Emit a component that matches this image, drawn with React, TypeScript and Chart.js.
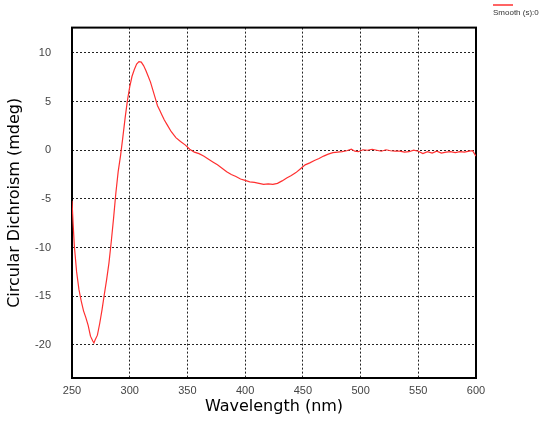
import React, { useEffect, useRef } from "react";
import { Chart, registerables } from "chart.js";

Chart.register(...registerables);

const wavelengths = [
  250, 251, 252, 254, 256, 258, 260, 262, 264, 266, 268, 269, 270, 272, 274, 276, 278, 280,
  282, 284, 286, 288, 290, 292, 294, 296, 298, 300, 302, 304, 306, 308, 310, 312, 314, 316,
  318, 320, 322, 324, 326, 328, 330, 333, 336, 340, 344, 348, 352, 356, 360, 364, 368, 372,
  376, 380, 384, 388, 392, 396, 400, 404, 408, 412, 416, 420, 424, 428, 432, 436, 440, 444,
  448, 452, 456, 460, 464, 468, 472, 476, 480, 484, 488, 492, 495, 498, 502, 506, 510, 514,
  518, 522, 526, 530, 534, 538, 542, 546, 550, 554, 558, 562, 566, 570, 574, 578, 582, 586,
  590, 594, 597, 600,
];

const cdValues = [
  -5.2, -7.6, -9.8, -12.5, -14.3, -15.5, -16.5, -17.2, -18.0, -19.1, -19.6, -19.8, -19.5,
  -19.0, -17.8, -16.4, -14.8, -13.3, -11.6, -9.4, -7.0, -4.4, -2.2, -0.6, 1.3, 3.3, 5.1, 6.5,
  7.6, 8.3, 8.85, 9.1, 9.05, 8.7, 8.2, 7.6, 7.0, 6.2, 5.4, 4.6, 4.1, 3.6, 3.1, 2.5, 1.9, 1.3,
  0.9, 0.55, 0.1, -0.2, -0.35, -0.6, -0.9, -1.2, -1.5, -1.85, -2.2, -2.5, -2.7, -2.95, -3.1,
  -3.25, -3.3, -3.4, -3.5, -3.45, -3.5, -3.4, -3.15, -2.85, -2.6, -2.3, -1.9, -1.5, -1.3,
  -1.05, -0.85, -0.6, -0.4, -0.25, -0.2, -0.15, -0.05, 0.1, -0.1, -0.15, 0.05, 0.0, 0.1, 0.0,
  -0.1, 0.05, -0.05, -0.1, -0.1, -0.2, -0.15, 0.0, -0.1, -0.35, -0.15, -0.3, -0.1, -0.3, -0.2,
  -0.15, -0.25, -0.15, -0.2, -0.1, -0.05, -0.6,
];

const xTicks = [250, 300, 350, 400, 450, 500, 550, 600];
const yTicks = [-20, -15, -10, -5, 0, 5, 10];

const seriesLabel = "Smooth (s):0";
const xTitle = "Wavelength (nm)";
const yTitle = "Circular Dichroism (mdeg)";
const lineColor = "#ff3030";

const frameAndLegend = {
  id: "frameAndLegend",
  beforeDatasetsDraw(chart: any) {
    const { ctx, chartArea } = chart;
    ctx.save();
    ctx.strokeStyle = "#000";
    ctx.lineWidth = 2;
    ctx.setLineDash([]);
    ctx.strokeRect(chartArea.left, chartArea.top, chartArea.right - chartArea.left, chartArea.bottom - chartArea.top);
    ctx.restore();
  },
  afterDraw(chart: any) {
    const { ctx } = chart;
    ctx.save();
    ctx.setLineDash([]);
    ctx.globalAlpha = 1;
    ctx.strokeStyle = lineColor;
    ctx.lineWidth = 1.5;
    ctx.beginPath();
    ctx.moveTo(493, 5);
    ctx.lineTo(513, 5);
    ctx.stroke();
    ctx.fillStyle = "#333";
    ctx.font = "8px 'Liberation Sans', Arial, sans-serif";
    ctx.textBaseline = "middle";
    ctx.textAlign = "left";
    ctx.fillText(seriesLabel, 493, 13);
    ctx.restore();
  },
};

export default function App() {
  const ref = useRef<HTMLCanvasElement | null>(null);

  useEffect(() => {
    if (!ref.current) return;
    const points = wavelengths.map((w, i) => ({ x: w, y: cdValues[i] }));
    const tickFont = { family: "'Liberation Sans', Arial, sans-serif", size: 11 };
    const titleFont = { family: "'DejaVu Sans', sans-serif", size: 16 };
    const chart = new Chart(ref.current, {
      type: "line",
      data: {
        datasets: [
          {
            label: seriesLabel,
            data: points,
            borderColor: lineColor,
            borderWidth: 1.2,
            pointRadius: 0,
            tension: 0,
            fill: false,
          },
        ],
      },
      options: {
        animation: false,
        responsive: false,
        devicePixelRatio: 1,
        layout: { padding: { top: 13, right: 74, left: 0, bottom: 0 } },
        plugins: { legend: { display: false }, tooltip: { enabled: false } },
        scales: {
          x: {
            type: "linear",
            min: 250,
            max: 600,
            afterBuildTicks: (s: any) => {
              s.ticks = xTicks.map((v) => ({ value: v }));
            },
            afterFit: (s: any) => {
              s.height = 44;
            },
            ticks: { color: "#444", font: tickFont, padding: 6, maxRotation: 0 },
            grid: { color: "#222", lineWidth: 1, drawTicks: false },
            border: { display: false, dash: [2, 2] },
            title: {
              display: true,
              text: xTitle,
              color: "#000",
              font: titleFont,
              padding: { top: 0, bottom: 6 },
            },
          },
          y: {
            type: "linear",
            min: -23.4,
            max: 12.6,
            afterBuildTicks: (s: any) => {
              s.ticks = yTicks.map((v) => ({ value: v }));
            },
            afterFit: (s: any) => {
              s.width = 72;
            },
            ticks: { color: "#444", font: tickFont, padding: 21 },
            grid: { color: "#222", lineWidth: 1, drawTicks: false },
            border: { display: false, dash: [2, 2] },
            title: {
              display: true,
              text: yTitle,
              color: "#000",
              font: titleFont,
              padding: { top: 5.5, bottom: 0 },
            },
          },
        },
      },
      plugins: [frameAndLegend],
    });
    return () => chart.destroy();
  }, []);

  return (
    <div style={{ position: "absolute", left: 0, top: 0, width: 550, height: 422, background: "#fff" }}>
      <canvas ref={ref} width={550} height={422} style={{ width: 550, height: 422 }} />
    </div>
  );
}
